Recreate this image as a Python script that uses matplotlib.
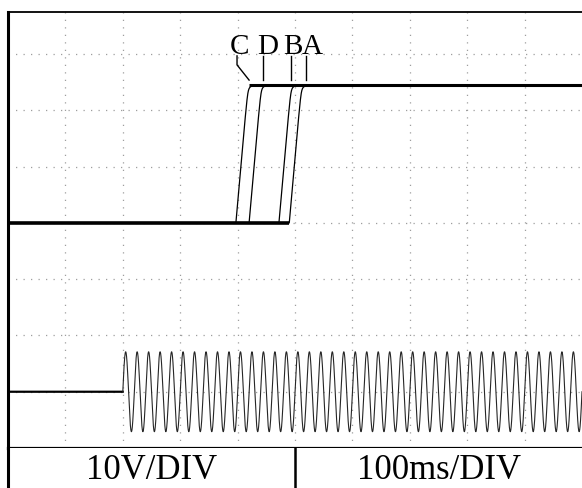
import numpy as np
import matplotlib
matplotlib.use("Agg")
import matplotlib.pyplot as plt

# scope screen, units are divisions
traces = ["C", "D", "B", "A"]
rise_start = [3.97, 4.20, 4.72, 4.90]   # div where each trace leaves the low level
rise_width = 0.21                        # div taken to reach the high level
low_level = 4.0
high_level = 6.45

# leader marks above the step
label_x = [4.04, 4.53, 4.97, 5.30]
leader_x = [4.20, 4.44, 4.93, 5.19]

# lower channel: sine that switches on at 2 div
sine_start = 2.0
cycles_per_div = 5.0
sine_amp = 0.71
sine_base = 1.0

volts_label = "10V/DIV"
time_label = "100ms/DIV"

serif = ["Liberation Serif", "DejaVu Serif"]

W, H = 582, 488
fig = plt.figure(figsize=(W / 100, H / 100), dpi=100)
ax = fig.add_axes([8 / W, 40 / H, 574 / W, 436 / H])
ax.set_xlim(0, 10)
ax.set_ylim(0, 7.75)

# dotted graticule
for gx in range(1, 10):
    ax.axvline(gx, color="0.62", lw=0.9, ls=(0, (1, 5)), zorder=1)
for gy in range(1, 8):
    ax.axhline(gy, color="0.62", lw=0.9, ls=(0, (1, 5)), zorder=1)

# step traces
x = np.linspace(0, 10, 4000)
for x0 in rise_start:
    s = np.clip((x - x0) / rise_width, 0, None)
    c = 0.12
    frac = 0.5 * (s + 1 - np.sqrt((s - 1) ** 2 + c ** 2)) + 0.5 * (np.sqrt(1 + c ** 2) - 1)
    frac = np.where(x < x0, 0, np.clip(frac, 0, 1))
    y = low_level + (high_level - low_level) * frac
    ax.plot(x, y, color="black", lw=0.9, zorder=3)
ax.plot([0, max(rise_start)], [low_level, low_level], color="black", lw=2.6,
        solid_capstyle="butt", zorder=3)
ax.plot([min(rise_start) + rise_width * 1.1, 10], [high_level, high_level],
        color="black", lw=2.2, solid_capstyle="butt", zorder=3)

# labels and leaders
for name, lx, ldx in zip(traces, label_x, leader_x):
    ax.text(lx, 7.0, name, fontsize=21, family=serif, ha="center", va="baseline")
    if name == "C":
        ax.plot([3.99, 3.99, ldx], [6.97, 6.81, 6.54], color="black", lw=1.0)
    else:
        ax.plot([ldx, ldx], [6.97, 6.54], color="black", lw=1.0)

# sine channel
xs = np.linspace(0, 10, 6000)
ys = np.where(xs < sine_start, sine_base,
              sine_base + sine_amp * np.sin(2 * np.pi * cycles_per_div * (xs - sine_start)))
ax.plot(xs[xs < sine_start], ys[xs < sine_start], color="black", lw=1.6, zorder=3)
ax.plot(xs[xs >= sine_start], ys[xs >= sine_start], color="0.15", lw=0.8, zorder=3)

ax.set_xticks([])
ax.set_yticks([])
ax.spines["right"].set_visible(False)
ax.spines["left"].set_linewidth(2.2)
ax.spines["top"].set_linewidth(1.3)
ax.spines["bottom"].set_linewidth(2.3)

# bottom strip with scale settings
lab = fig.add_axes([8 / W, 0, 574 / W, 40 / H])
lab.set_xlim(0, 1)
lab.set_ylim(0, 1)
lab.axvline(0.5, color="black", lw=1.8)
lab.text(0.25, 0.22, volts_label, fontsize=25, family=serif, ha="center", va="baseline")
lab.text(0.75, 0.22, time_label, fontsize=25, family=serif, ha="center", va="baseline")
lab.set_xticks([])
lab.set_yticks([])
for side in ["top", "right", "bottom"]:
    lab.spines[side].set_visible(False)
lab.spines["left"].set_linewidth(2.2)

fig.savefig("out.png", dpi=100)
